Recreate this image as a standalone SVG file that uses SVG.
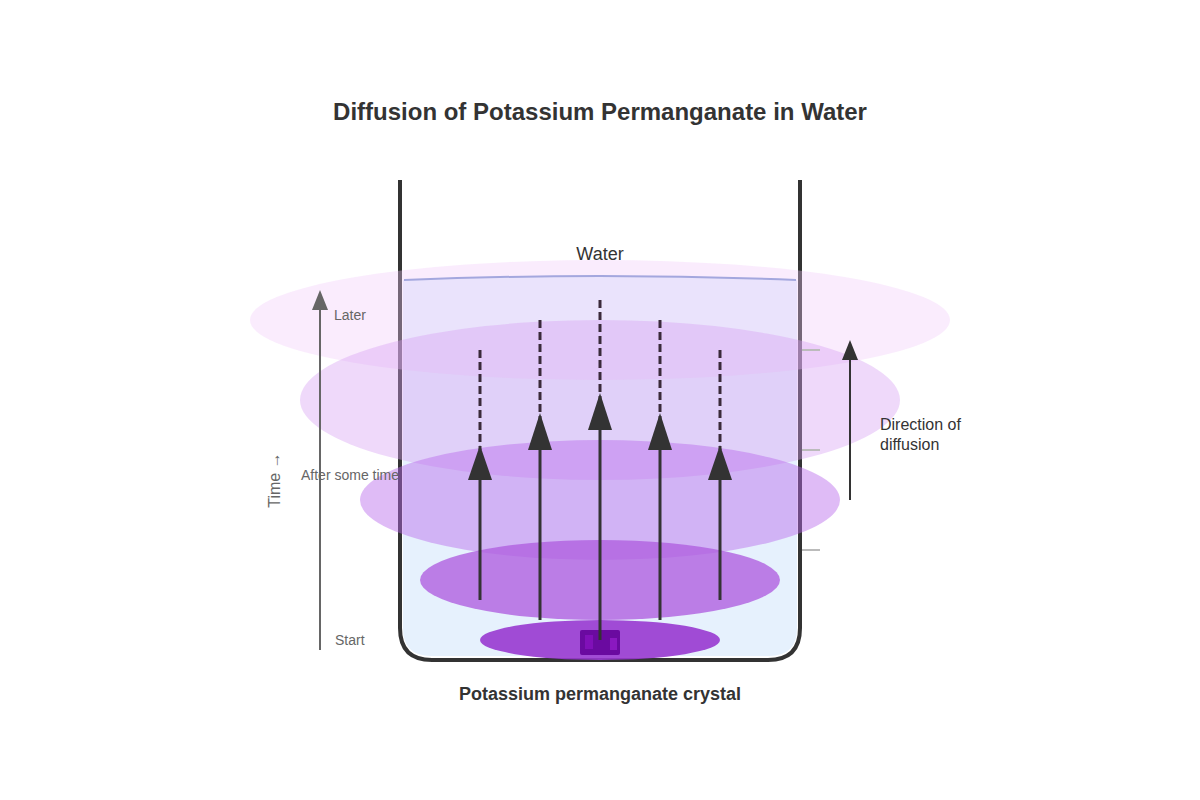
<svg xmlns="http://www.w3.org/2000/svg" width="1200" height="800" viewBox="0 0 1200 800">
<style>
text{font-family:"Liberation Sans",Arial,sans-serif}
.lbl{font-size:14px;fill:#666}
.dash{stroke:#3a2a3a;stroke-width:3;stroke-dasharray:8,4}
.sol{stroke:#333;stroke-width:3}
.hd{fill:#333}
</style>
<rect width="1200" height="800" fill="#fff"/>
<text x="600" y="120" text-anchor="middle" font-size="24" font-weight="bold" fill="#333">Diffusion of Potassium Permanganate in Water</text>
<g id="beaker">
<path d="M403 280 Q600 272 797 280 L797 628 Q797 656 769 656 L431 656 Q403 656 403 628 Z" fill="#e6f1fd"/>
<path d="M404 280 Q600 272 796 280" fill="none" stroke="#7b96d0" stroke-width="2"/>
<path d="M400 180 L400 628 Q400 660 432 660 L768 660 Q800 660 800 628 L800 180" fill="none" stroke="#333" stroke-width="4"/>
</g>
<text x="600" y="260" text-anchor="middle" font-size="18" fill="#333">Water</text>
<g id="clouds">
<ellipse cx="600" cy="320" rx="350" ry="60" fill="#f0c8f8" opacity="0.35"/>
<ellipse cx="600" cy="400" rx="300" ry="80" fill="#d8a0f2" opacity="0.4"/>
<ellipse cx="600" cy="500" rx="240" ry="60" fill="#b868ec" opacity="0.45"/>
<ellipse cx="600" cy="580" rx="180" ry="40" fill="#b060e0" opacity="0.8"/>
<ellipse cx="600" cy="640" rx="120" ry="20" fill="#9838d0" opacity="0.9"/>
<rect x="580" y="630" width="40" height="25" rx="2" fill="#6a0aa0"/>
<rect x="585" y="635" width="8" height="14" fill="#8010b8"/>
<rect x="610" y="638" width="7" height="12" fill="#8a18c0"/>
</g>
<g id="ticks" stroke="#bbb" stroke-width="2">
<line x1="802" y1="350" x2="820" y2="350"/>
<line x1="802" y1="450" x2="820" y2="450"/>
<line x1="802" y1="550" x2="820" y2="550"/>
</g>
<g id="connectors">
<line class="dash" x1="480" y1="350" x2="480" y2="450"/>
<line class="sol" x1="480" y1="600" x2="480" y2="475"/>
<polygon class="hd" points="480,445 468,480 492,480"/>
<line class="dash" x1="540" y1="320" x2="540" y2="420"/>
<line class="sol" x1="540" y1="620" x2="540" y2="445"/>
<polygon class="hd" points="540,413 528,450 552,450"/>
<line class="dash" x1="600" y1="300" x2="600" y2="400"/>
<line class="sol" x1="600" y1="640" x2="600" y2="425"/>
<polygon class="hd" points="600,393 588,430 612,430"/>
<line class="dash" x1="660" y1="320" x2="660" y2="420"/>
<line class="sol" x1="660" y1="620" x2="660" y2="445"/>
<polygon class="hd" points="660,413 648,450 672,450"/>
<line class="dash" x1="720" y1="350" x2="720" y2="450"/>
<line class="sol" x1="720" y1="600" x2="720" y2="475"/>
<polygon class="hd" points="720,445 708,480 732,480"/>
<line x1="850" y1="500" x2="850" y2="355" stroke="#333" stroke-width="2"/>
<polygon class="hd" points="850,340 842,360 858,360"/>
<line x1="320" y1="650" x2="320" y2="305" stroke="#666" stroke-width="2"/>
<polygon points="320,290 312,310 328,310" fill="#666"/>
</g>
<text x="880" y="430" font-size="16" fill="#333">Direction of</text>
<text x="880" y="450" font-size="16" fill="#333">diffusion</text>
<text class="lbl" x="334" y="320">Later</text>
<text class="lbl" x="301" y="480">After some time</text>
<text class="lbl" x="335" y="645">Start</text>
<text transform="translate(280,480) rotate(-90)" text-anchor="middle" font-size="16" fill="#666">Time →</text>
<text x="600" y="700" text-anchor="middle" font-size="18" font-weight="bold" fill="#333">Potassium permanganate crystal</text>
</svg>
